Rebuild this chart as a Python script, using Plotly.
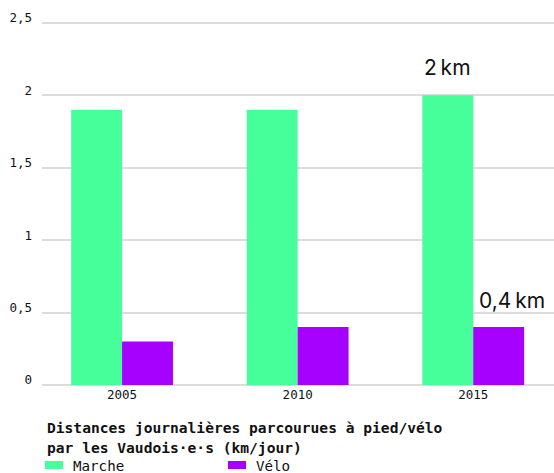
import plotly.graph_objects as go

# Daily distances travelled by residents of Vaud (km/day)
years = ["2005", "2010", "2015"]
marche = [1.9, 1.9, 2.0]
velo = [0.3, 0.4, 0.4]
y_ticks = [0, 0.5, 1, 1.5, 2, 2.5]
y_tick_labels = ["0", "0,5", "1", "1,5", "2", "2,5"]

GREEN = "#46FF9A"
PURPLE = "#A600FF"
MONO = "DejaVu Sans Mono, Liberation Mono, monospace"
SANS = "Inter, Roboto, Liberation Sans, sans-serif"
INK = "#111111"

W, H = 554, 473
L, T, PW, PH = 42, 20, 512, 365  # plot area in pixels
Y_MAX = 2.52  # a little headroom so the top gridline is drawn


def px_x(p):
    return (p - L) / PW


def px_y(p):
    return (T + PH - p) / PH


x = list(range(len(years)))

fig = go.Figure()
fig.add_trace(go.Bar(x=x, y=marche, name="Marche", marker_color=GREEN,
                     marker_line_width=0, showlegend=False))
fig.add_trace(go.Bar(x=x, y=velo, name="Vélo", marker_color=PURPLE,
                     marker_line_width=0, showlegend=False))


def fmt_km(v):
    s = ("%g" % v).replace(".", ",")
    return s + "\u2009km"


# value labels on the latest year
last = len(years) - 1
fig.add_annotation(x=last, y=marche[last], xref="x", yref="y", text=fmt_km(marche[last]),
                   showarrow=False, xshift=-26, yshift=28,
                   font=dict(family=SANS, size=21, color=INK))
fig.add_annotation(x=last, y=velo[last], xref="x", yref="y", text=fmt_km(velo[last]),
                   showarrow=False, xshift=39, yshift=27,
                   font=dict(family=SANS, size=21, color=INK))

# chart title below the axis, one annotation per line
title_lines = ["Distances journalières parcourues à pied/vélo",
               "par les Vaudois·e·s (km/jour)"]
for i, line in enumerate(title_lines):
    fig.add_annotation(x=px_x(45), y=px_y(427 + 20 * i), xref="paper", yref="paper",
                       xanchor="left", yanchor="middle", align="left", showarrow=False,
                       text="<b>" + line + "</b>",
                       font=dict(family=MONO, size=14.6, color=INK))

# legend
legend_items = [("Marche", GREEN, 45), ("Vélo", PURPLE, 228)]
for label, color, px in legend_items:
    fig.add_shape(type="rect", xref="paper", yref="paper",
                  x0=px_x(px), x1=px_x(px + 18),
                  y0=px_y(469), y1=px_y(461),
                  fillcolor=color, line_width=0)
    fig.add_annotation(x=px_x(px + 26), y=px_y(466), xref="paper", yref="paper",
                       xanchor="left", yanchor="middle", showarrow=False, text=label,
                       font=dict(family=MONO, size=14.2, color=INK))

fig.update_layout(
    width=W, height=H,
    margin=dict(l=L, r=W - L - PW, t=T, b=H - T - PH),
    paper_bgcolor="white", plot_bgcolor="white",
    barmode="group", bargap=0.42, bargroupgap=0,
    showlegend=False,
)
fig.update_xaxes(tickvals=x, ticktext=years, range=[-0.456, 2.46],
                 showgrid=False, showline=False, zeroline=False, ticks="",
                 tickfont=dict(family=MONO, size=12.5, color=INK))
fig.update_yaxes(range=[0, Y_MAX], tickvals=y_ticks, ticktext=y_tick_labels,
                 showgrid=True, gridcolor="#dcdcdc", gridwidth=1.5,
                 zeroline=True, zerolinecolor="#dcdcdc", zerolinewidth=1.5,
                 showline=False, ticks="", ticklabelstandoff=9, ticklabelshift=-5,
                 tickfont=dict(family=MONO, size=12.5, color=INK))

fig.write_html("out.html")
